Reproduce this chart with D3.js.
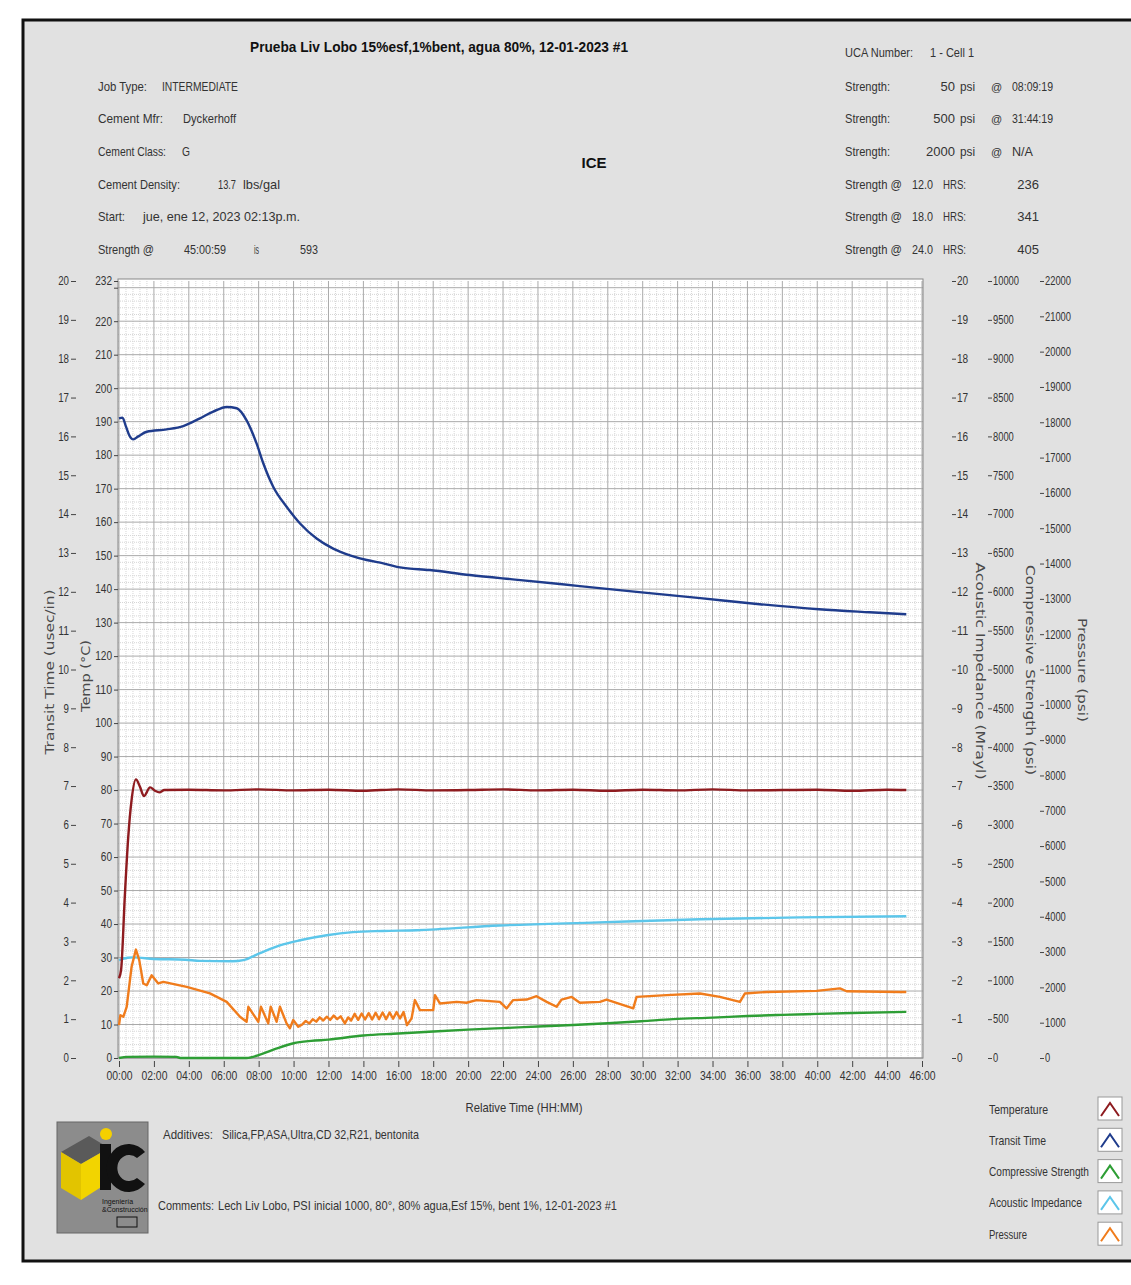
<!DOCTYPE html>
<html><head><meta charset="utf-8">
<script src="https://cdn.jsdelivr.net/npm/d3@7"></script>
<style>
body{margin:0;background:#fff}
svg{display:block}
text{font-family:"Liberation Sans",Arial,sans-serif}
</style>
</head><body>
<svg id="c" width="1131" height="1285"></svg>
<script>
// ---------- data ----------
const titleText = "Prueba Liv Lobo 15%esf,1%bent, agua 80%, 12-01-2023 #1";
const hourTicks = d3.range(0, 47, 2);
const tempTicks = d3.range(0, 231, 10).concat([232]);
const transitTicks = d3.range(0, 21, 1);
const impedanceTicks = d3.range(0, 21, 1);
const strengthTicks = d3.range(0, 10001, 500);
const pressureTicks = d3.range(0, 22001, 1000);

// [hours, value]
const temperature = [[0,23.8],[0.12,26.3],[0.34,49],[0.53,66],[0.72,77],[0.97,83.2],[1.2,81],[1.43,78.2],[1.78,80.8],[2.06,79.8],[2.31,79.3],[2.6,80],[4,80.1],[6,79.9],[8,80.2],[10,79.9],[12,80.1],[14,79.8],[16,80.2],[18,79.9],[20,80],[22,80.2],[24,79.9],[26,80.1],[28,79.8],[30,80.1],[32,79.9],[34,80.2],[36,79.9],[38,80],[40,80.1],[42,79.8],[44,80.1],[45.1,80]];
const transitTime = [[0,191],[0.2,191.2],[0.4,188.5],[0.6,185.8],[0.82,184.7],[1.1,185.6],[1.59,187],[2.73,187.7],[3.68,188.7],[4.64,191],[5.4,193],[6.17,194.4],[6.74,194],[7.31,190.4],[7.88,183.5],[8.27,177.5],[8.84,170.5],[9.6,164.6],[10.37,159.6],[11.32,155.1],[12.27,152.1],[13.23,150.1],[14.19,148.7],[15.14,147.7],[16.1,146.5],[17.8,145.7],[20.1,144.2],[23,142.7],[26.4,140.9],[29.8,139.1],[33.3,137.3],[36.7,135.5],[40.1,134],[43,133.1],[45.1,132.5]];
const compressiveStrength = [[0,0],[0.5,15],[2,18],[3.3,15],[3.5,0],[7.3,0],[8.16,50],[9,120],[10,190],[11,220],[12,236],[14,290],[16,315],[18,341],[20,365],[22,385],[24,405],[26,425],[28,448],[30,475],[31.74,500],[34,520],[36,540],[38,555],[40,568],[42,580],[45.1,593]];
const acousticImpedance = [[0,2.52],[0.5,2.58],[0.82,2.59],[2,2.55],[3.8,2.53],[4.64,2.5],[6.5,2.49],[7.12,2.52],[8.08,2.7],[9.22,2.9],[10.37,3.03],[11.9,3.16],[13.4,3.24],[15.1,3.27],[17.05,3.29],[21.8,3.41],[27.5,3.49],[33.3,3.57],[39,3.62],[45.1,3.65]];
const pressure = [[0,930],[0.08,1210],[0.25,1170],[0.44,1450],[0.72,2580],[0.97,3070],[1.16,2770],[1.39,2110],[1.59,2060],[1.87,2340],[2.25,2110],[2.54,2155],[3.88,2015],[5.21,1830],[6.17,1590],[6.93,1170],[7.31,1025],[7.41,1450],[7.98,1025],[8.13,1450],[8.55,980],[8.69,1450],[9.03,1025],[9.22,1450],[9.6,980],[9.79,840],[9.98,1075],[10.27,885],[10.5,950],[10.7,1050],[10.9,980],[11.1,1100],[11.3,1030],[11.5,1150],[11.7,1060],[11.9,1170],[12.1,1080],[12.3,1200],[12.5,1100],[12.7,1180],[12.94,980],[13.13,1150],[13.3,1060],[13.5,1250],[13.7,1080],[13.9,1260],[14.1,1090],[14.3,1270],[14.5,1090],[14.7,1280],[14.9,1100],[15.1,1290],[15.3,1100],[15.5,1290],[15.7,1110],[15.9,1300],[16.1,1120],[16.3,1300],[16.5,930],[16.76,1120],[16.95,1640],[17.24,1355],[18.0,1355],[18.1,1780],[18.38,1545],[19.34,1590],[19.91,1565],[20.48,1640],[21.82,1590],[22.2,1405],[22.58,1640],[23.35,1655],[23.92,1750],[24.5,1590],[25.07,1450],[25.35,1655],[25.93,1730],[26.4,1565],[27.55,1590],[27.93,1655],[29.46,1405],[29.65,1730],[31.37,1780],[33.28,1825],[34.42,1730],[35.57,1590],[35.85,1825],[37.1,1870],[39.96,1900],[41.3,1970],[41.68,1890],[44.73,1870],[45.1,1870]];

const headerLeft = [["Job Type:","INTERMEDIATE"],["Cement Mfr:","Dyckerhoff"],["Cement Class:","G"],["Cement Density:","13.7","lbs/gal"],["Start:","jue, ene 12, 2023 02:13p.m."],["Strength @","45:00:59","is","593"]];
const strengthRows = [["50","08:09:19"],["500","31:44:19"],["2000","N/A"]];
const strengthAtHours = [["12.0","236"],["18.0","341"],["24.0","405"]];
const legendNames = ["Temperature","Transit Time","Compressive Strength","Acoustic Impedance","Pressure"];
const seriesColors = ["#8e1b1f","#1f3c8c","#2e9e35","#5cc6ea","#f07c1c"];

// ---------- drawing ----------
const svg = d3.select("#c");
function T(x, y, s, o = {}) {
  const t = svg.append("text").attr("x", x).attr("y", y).text(s)
    .attr("font-size", o.size || 13).attr("fill", o.fill || "#333");
  if (o.w) t.attr("textLength", o.w).attr("lengthAdjust", "spacingAndGlyphs");
  if (o.bold) t.attr("font-weight", "bold");
  if (o.anchor) t.attr("text-anchor", o.anchor);
  if (o.family) t.style("font-family", o.family);
  return t;
}

// frame
svg.append("rect").attr("x", 23).attr("y", 20).attr("width", 1140).attr("height", 1241)
  .attr("fill", "#e1e1e1").attr("stroke", "#111").attr("stroke-width", 3);

// title & header
T(250, 52, titleText, {size: 15, bold: true, w: 378, fill: "#111"});
const rowY = [91, 123, 156, 189, 221, 254];
const valX = [[162],[183],[182],[218,243],[143],[184,254,300]];
const valW = [[76],[53],[8],[18,37],[157],[42,5,18]];
const labW = [49, 65, 68, 82, 27, 56];
headerLeft.forEach((r, i) => {
  T(98, rowY[i], r[0], {w: labW[i]});
  r.slice(1).forEach((v, j) => T(valX[i][j], rowY[i], v, {w: valW[i][j]}));
});
T(594, 168, "ICE", {size: 15, bold: true, anchor: "middle", fill: "#111"});

T(845, 57, "UCA Number:", {w: 68});
T(930, 57, "1 - Cell 1", {w: 44});
strengthRows.forEach((r, i) => {
  const y = rowY[i];
  T(845, y, "Strength:", {w: 45});
  T(955, y, r[0], {anchor: "end"});
  T(960, y, "psi", {w: 15});
  T(991, y, "@", {size: 11});
  T(1012, y, r[1], {w: r[1] === "N/A" ? 21 : 41});
});
strengthAtHours.forEach((r, i) => {
  const y = rowY[i + 3];
  T(845, y, "Strength @", {w: 57});
  T(912, y, r[0], {w: 21});
  T(943, y, "HRS:", {w: 23});
  T(1039, y, r[1], {anchor: "end"});
});

// scales
const L = 118, R = 923, TOP = 281, BOT = 1058;
const x = d3.scaleLinear([0, 46], [119, 922]);
const yTemp = d3.scaleLinear([0, 232], [BOT, TOP]);
const yTransit = d3.scaleLinear([0, 20], [BOT, TOP]);
const yAI = d3.scaleLinear([0, 20], [BOT, TOP]);
const yCS = d3.scaleLinear([0, 10000], [BOT, TOP]);
const yP = d3.scaleLinear([0, 22000], [BOT, TOP]);

// plot area + grid
svg.append("rect").attr("x", L).attr("y", TOP - 2).attr("width", R - L).attr("height", BOT - TOP + 2)
  .attr("fill", "#fff");
const grid = svg.append("g");
d3.range(0, 232, 2).filter(v => v % 10 !== 0).forEach(v =>
  grid.append("line").attr("x1", L).attr("x2", R).attr("y1", yTemp(v)).attr("y2", yTemp(v))
    .attr("stroke", "#d6d6d6").attr("stroke-dasharray", "1,1"));
d3.range(0, 46.01, 0.4).filter(h => Math.abs(h / 2 - Math.round(h / 2)) > 0.01).forEach(h =>
  grid.append("line").attr("y1", TOP).attr("y2", BOT).attr("x1", x(h)).attr("x2", x(h))
    .attr("stroke", "#d6d6d6").attr("stroke-dasharray", "1,1"));
d3.range(0, 231, 10).forEach(v =>
  grid.append("line").attr("x1", L).attr("x2", R).attr("y1", yTemp(v)).attr("y2", yTemp(v))
    .attr("stroke", "#aaa"));
hourTicks.forEach(h =>
  grid.append("line").attr("y1", TOP).attr("y2", BOT).attr("x1", x(h)).attr("x2", x(h))
    .attr("stroke", "#aaa"));
svg.append("rect").attr("x", L).attr("y", TOP - 2).attr("width", R - L).attr("height", BOT - TOP + 2)
  .attr("fill", "none").attr("stroke", "#888");

function styleAxis(g, charW) {
  g.select(".domain").remove();
  g.selectAll(".tick line").attr("stroke", "#444");
  g.selectAll(".tick text").attr("fill", "#333").attr("font-size", 12)
    .style("font-family", '"Liberation Sans",Arial,sans-serif')
    .each(function () {
      const s = d3.select(this).text();
      if (s.length) d3.select(this).attr("textLength", s.length * charW).attr("lengthAdjust", "spacingAndGlyphs");
    });
}
const plain = d => String(d);

// left axes
styleAxis(svg.append("g").attr("transform", `translate(76,0)`)
  .call(d3.axisLeft(yTransit).tickValues(transitTicks).tickFormat(plain).tickSize(5).tickPadding(2)), 5.4);
styleAxis(svg.append("g").attr("transform", `translate(${L},0)`)
  .call(d3.axisLeft(yTemp).tickValues(tempTicks).tickFormat(d => d === 230 ? "" : String(d)).tickSize(4).tickPadding(2)), 5.6);
// right axes
styleAxis(svg.append("g").attr("transform", `translate(952,0)`)
  .call(d3.axisRight(yAI).tickValues(impedanceTicks).tickFormat(plain).tickSize(4).tickPadding(1)), 5.6);
styleAxis(svg.append("g").attr("transform", `translate(988,0)`)
  .call(d3.axisRight(yCS).tickValues(strengthTicks).tickFormat(plain).tickSize(4).tickPadding(1)), 5.2);
styleAxis(svg.append("g").attr("transform", `translate(1040,0)`)
  .call(d3.axisRight(yP).tickValues(pressureTicks).tickFormat(plain).tickSize(4).tickPadding(1)), 5.2);
// x axis
styleAxis(svg.append("g").attr("transform", `translate(0,${BOT + 3})`)
  .call(d3.axisBottom(x).tickValues(hourTicks)
    .tickFormat(h => String(h).padStart(2, "0") + ":00").tickSize(6).tickPadding(4)), 5.2);

// axis titles
const titleFam = '"DejaVu Sans",sans-serif';
function vTitle(cx, cy, s, w, rot) {
  T(0, 0, s, {size: 12, w: w, anchor: "middle", fill: "#4a4a4a", family: titleFam})
    .attr("transform", `translate(${cx},${cy}) rotate(${rot})`);
}
vTitle(54, 672, "Transit Time (usec/in)", 165, -90);
vTitle(90, 676, "Temp (°C)", 72, -90);
vTitle(976, 671, "Acoustic Impedance (Mrayl)", 217, 90);
vTitle(1026, 670, "Compressive Strength (psi)", 210, 90);
vTitle(1078, 670, "Pressure (psi)", 104, 90);
T(524, 1112, "Relative Time (HH:MM)", {anchor: "middle", w: 117});

// series
const clip = svg.append("clipPath").attr("id", "pc").append("rect")
  .attr("x", L).attr("y", TOP - 2).attr("width", R - L).attr("height", BOT - TOP + 4);
const plot = svg.append("g").attr("clip-path", "url(#pc)");
function drawLine(data, ys, color, curve) {
  plot.append("path").datum(data)
    .attr("d", d3.line().x(d => x(d[0])).y(d => ys(d[1])).curve(curve))
    .attr("fill", "none").attr("stroke", color).attr("stroke-width", 2.4)
    .attr("stroke-linejoin", "round");
}
drawLine(compressiveStrength, yCS, seriesColors[2], d3.curveMonotoneX);
drawLine(acousticImpedance, yAI, seriesColors[3], d3.curveMonotoneX);
drawLine(pressure, yP, seriesColors[4], d3.curveLinear);
drawLine(temperature, yTemp, seriesColors[0], d3.curveMonotoneX);
drawLine(transitTime, yTemp, seriesColors[1], d3.curveMonotoneX);

// logo
const lg = svg.append("g").attr("transform", "translate(57,1122)");
lg.append("rect").attr("width", 91).attr("height", 111).attr("fill", "#8c8c8c").attr("stroke", "#666");
lg.append("polygon").attr("points", "4,30 32,14 52,26 24,42").attr("fill", "#5a5a5a");
lg.append("polygon").attr("points", "4,30 24,42 24,78 4,66").attr("fill", "#e2c400");
lg.append("polygon").attr("points", "24,42 52,26 52,60 24,78").attr("fill", "#f2d400");
lg.append("circle").attr("cx", 49).attr("cy", 12).attr("r", 6).attr("fill", "#f5d000");
lg.append("rect").attr("x", 43).attr("y", 22).attr("width", 11).attr("height", 46).attr("fill", "#111");
lg.append("path").attr("d", "M88,30 A22,24 0 1 0 88,62 L80,56 A12,13 0 1 1 80,36 Z").attr("fill", "#111");
lg.append("text").attr("x", 45).attr("y", 82).attr("font-size", 7).attr("fill", "#111").text("Ingeniería");
lg.append("text").attr("x", 45).attr("y", 90).attr("font-size", 7).attr("fill", "#111").text("&Construcción");
lg.append("rect").attr("x", 60).attr("y", 95).attr("width", 20).attr("height", 10).attr("fill", "none").attr("stroke", "#111");

T(163, 1139, "Additives:", {w: 50});
T(222, 1139, "Silica,FP,ASA,Ultra,CD 32,R21, bentonita", {w: 197});
T(158, 1210, "Comments:", {w: 56});
T(218, 1210, "Lech Liv Lobo, PSI inicial 1000, 80°, 80% agua,Esf 15%, bent 1%, 12-01-2023 #1", {w: 399});

// legend
const legW = [59, 57, 100, 93, 38];
legendNames.forEach((n, i) => {
  const cy = 1109 + i * 31.3;
  T(989, cy + 4.5, n, {w: legW[i]});
  svg.append("rect").attr("x", 1098).attr("y", cy - 12).attr("width", 24).attr("height", 23)
    .attr("fill", "#fff").attr("stroke", "#999");
  svg.append("polyline").attr("points", `${1101},${cy + 7} ${1110},${cy - 6} ${1119},${cy + 7}`)
    .attr("fill", "none").attr("stroke", seriesColors[i]).attr("stroke-width", 2);
});
</script>
</body></html>
